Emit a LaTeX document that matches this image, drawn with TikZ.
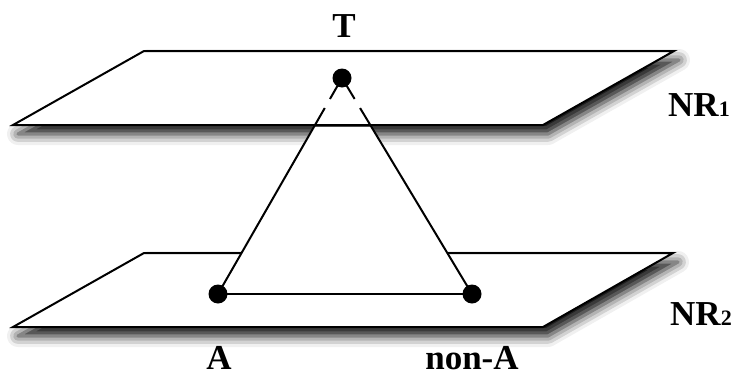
\documentclass[tikz,border=0pt]{standalone}
\usepackage{fontspec}
\setmainfont{Liberation Serif}
\usetikzlibrary{shadows.blur,calc}
\begin{document}
\begin{tikzpicture}[x=1pt,y=-1pt,
  plane/.style={draw=black, line width=2pt, line join=miter, fill=white,
    blur shadow={shadow xshift=5pt, shadow yshift=-9pt, shadow blur radius=11pt, shadow opacity=95}},
  edgeline/.style={line width=2pt, draw=black},
  dot/.style={circle, fill=black, inner sep=0pt, minimum size=19pt},
  lbl/.style={font=\bfseries\fontsize{35}{35}\selectfont, inner sep=0pt, anchor=base, text depth=0pt}
]
\useasboundingbox (0,0) rectangle (734,375);
% corners of the planes
\coordinate (p1a) at (13,125);
\coordinate (p1b) at (144,51);
\coordinate (p1c) at (674,51);
\coordinate (p1d) at (543,125);
\coordinate (p2a) at (13,327);
\coordinate (p2b) at (144,253);
\coordinate (p2c) at (673,253);
\coordinate (p2d) at (543,327);
% bottom plane, then top plane
\filldraw[plane] (p2a) -- (p2b) -- (p2c) -- (p2d) -- cycle;
\filldraw[plane] (p1a) -- (p1b) -- (p1c) -- (p1d) -- cycle;
% points
\coordinate (Tc) at (342,78);
\coordinate (Ac) at (218,294);
\coordinate (Nc) at (472,294);
% white triangle face in front of the lower plane's edge
\fill[white] ($(Tc)!0.226!(Ac)$) -- ($(Tc)!0.226!(Nc)$) -- (Nc) -- (Ac) -- cycle;
% triangle edges
\draw[edgeline] (Tc) -- ($(Tc)!0.097!(Ac)$);
\draw[edgeline] ($(Tc)!0.139!(Ac)$) -- (Ac);
\draw[edgeline] (Tc) -- ($(Tc)!0.097!(Nc)$);
\draw[edgeline] ($(Tc)!0.139!(Nc)$) -- (Nc);
\draw[edgeline] (Ac) -- (Nc);
% dots
\node[dot] (T) at (Tc) {};
\node[dot] (A) at (Ac) {};
\node[dot] (nA) at (Nc) {};
% labels
\node[lbl] (labT) at (344,37) {T};
\node[lbl] (labA) at (219,369) {A};
\node[lbl] (labnA) at (472,369) {non-A};
\node[lbl, anchor=base west] (labN1) at (668,116) {NR{\fontsize{22}{22}\selectfont 1}};
\node[lbl, anchor=base west] (labN2) at (670,325) {NR{\fontsize{22}{22}\selectfont 2}};
\end{tikzpicture}
\end{document}
